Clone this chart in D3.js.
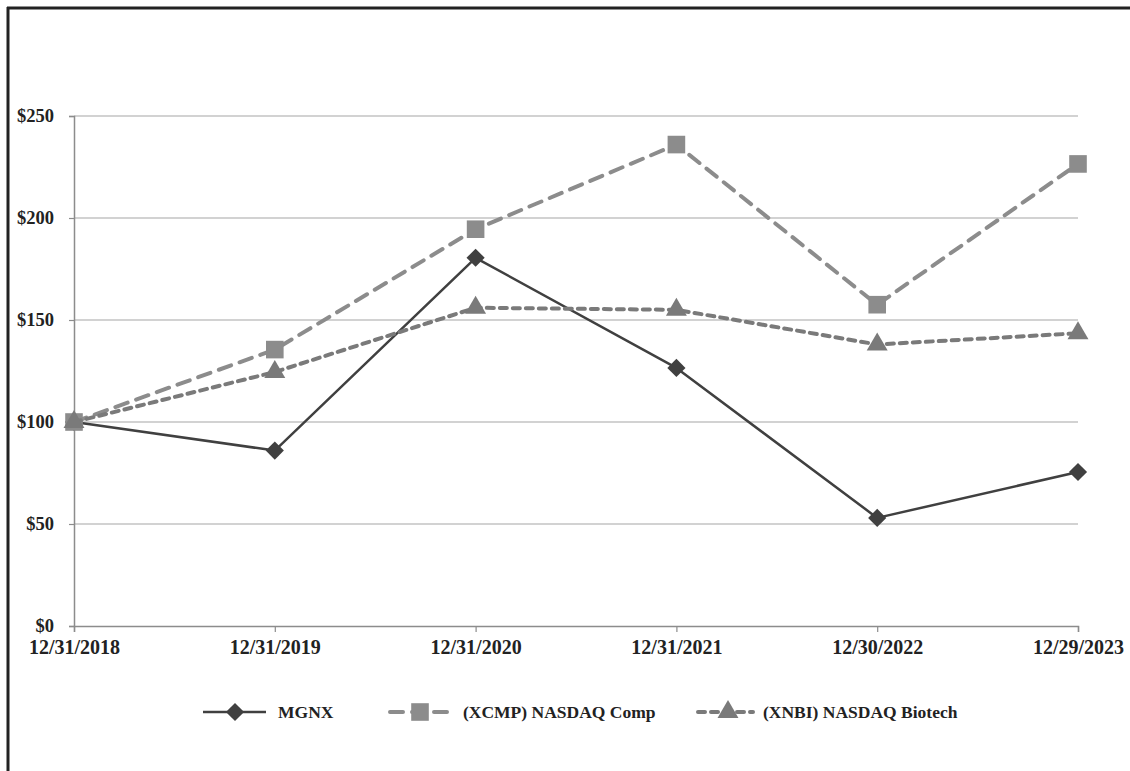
<!DOCTYPE html>
<html>
<head>
<meta charset="utf-8">
<script src="https://cdn.jsdelivr.net/npm/d3@7"></script>
<style>
  html, body { margin: 0; padding: 0; background: #fff; }
  svg { display: block; }
  text { font-family: "Liberation Serif", "Times New Roman", serif; font-weight: bold; fill: #222; }
</style>
</head>
<body>
<svg id="chart" width="1130" height="771"></svg>
<script>
const categories = ["12/31/2018", "12/31/2019", "12/31/2020", "12/31/2021", "12/30/2022", "12/29/2023"];
const mgnx = [100, 86, 180.5, 126.5, 53, 75.5];
const xcmp = [100, 135.5, 194.5, 236, 157.5, 226.5];
const xnbi = [100, 124.5, 156, 155, 138, 143.5];
const yTicks = [0, 50, 100, 150, 200, 250];
const seriesNames = ["MGNX", "(XCMP) NASDAQ Comp", "(XNBI) NASDAQ Biotech"];

(function () {
const svg = d3.select("#chart");
const W = 1130, H = 771;
const pL = 74, pR = 1078, pT = 116, pB = 626;

// outer frame (only left & top visible)
svg.append("line").attr("x1", 8).attr("x2", 8).attr("y1", 7).attr("y2", H).attr("stroke", "#222").attr("stroke-width", 3);
svg.append("line").attr("x1", 7).attr("x2", W).attr("y1", 8).attr("y2", 8).attr("stroke", "#222").attr("stroke-width", 3);

const x = d3.scalePoint().domain(categories).range([pL, pR]);
const y = d3.scaleLinear().domain([0, 250]).range([pB, pT]);

// gridlines
svg.append("g").selectAll("line").data(yTicks.filter(d => d > 0)).join("line")
  .attr("x1", pL).attr("x2", pR)
  .attr("y1", d => y(d)).attr("y2", d => y(d))
  .attr("stroke", "#a6a6a6").attr("stroke-width", 1.2);

// y axis
const yAxis = d3.axisLeft(y).tickValues(yTicks).tickFormat(d => "$" + d).tickSize(5).tickPadding(15);
const gy = svg.append("g").attr("transform", `translate(${pL},0)`).call(yAxis);
gy.select(".domain").attr("stroke", "#8c8c8c").attr("stroke-width", 1.5);
gy.selectAll(".tick line").attr("stroke", "#8c8c8c").attr("stroke-width", 1.2);
gy.selectAll(".tick text").attr("font-size", 18.5).attr("fill", "#222").style("font-family", "Liberation Serif").style("font-weight", "bold");

// x axis
const xAxis = d3.axisBottom(x).tickSize(6).tickPadding(8);
const gx = svg.append("g").attr("transform", `translate(0,${pB})`).call(xAxis);
gx.select(".domain").attr("stroke", "#8c8c8c").attr("stroke-width", 1.5);
gx.selectAll(".tick line").attr("stroke", "#8c8c8c").attr("stroke-width", 1.2);
gx.selectAll(".tick text").attr("font-size", 20).attr("fill", "#222").style("font-family", "Liberation Serif").style("font-weight", "bold");

const line = d3.line().x((d, i) => x(categories[i])).y(d => y(d));

const styles = [
  { data: mgnx, color: "#404040", width: 2.5, dash: null, sym: d3.symbolSquare, size: 165, rot: 45 },
  { data: xcmp, color: "#8c8c8c", width: 4, dash: "13,9", sym: d3.symbolSquare, size: 310, rot: 0 },
  { data: xnbi, color: "#7a7a7a", width: 4, dash: "7,6", sym: d3.symbolTriangle, size: 190, rot: 0 }
];

styles.forEach(s => {
  svg.append("path").datum(s.data).attr("d", line)
    .attr("fill", "none").attr("stroke", s.color).attr("stroke-width", s.width)
    .attr("stroke-dasharray", s.dash).attr("stroke-linecap", s.dash ? "round" : "butt")
    .attr("stroke-linejoin", "round");
  const sym = d3.symbol().type(s.sym).size(s.size);
  svg.append("g").selectAll("path").data(s.data).join("path")
    .attr("d", sym)
    .attr("transform", (d, i) => `translate(${x(categories[i])},${y(d)}) rotate(${s.rot})`)
    .attr("fill", s.color);
});

// legend
const legY = 712;
const legItems = [
  { x1: 203, x2: 266, mx: 235, tx: 278 },
  { x1: 390, x2: 450, mx: 420, tx: 463 },
  { x1: 698, x2: 753, mx: 728, tx: 763 }
];
legItems.forEach((L, k) => {
  const s = styles[k];
  svg.append("line").attr("x1", L.x1).attr("x2", L.x2).attr("y1", legY).attr("y2", legY)
    .attr("stroke", s.color).attr("stroke-width", s.width)
    .attr("stroke-dasharray", s.dash).attr("stroke-linecap", s.dash ? "round" : "butt");
  svg.append("path").attr("d", d3.symbol().type(s.sym).size(s.size)())
    .attr("transform", `translate(${L.mx},${legY}) rotate(${s.rot})`)
    .attr("fill", s.color);
  svg.append("text").attr("x", L.tx).attr("y", legY).attr("dy", "0.35em")
    .attr("font-size", 17.5).text(seriesNames[k]);
});
})();
</script>
</body>
</html>
